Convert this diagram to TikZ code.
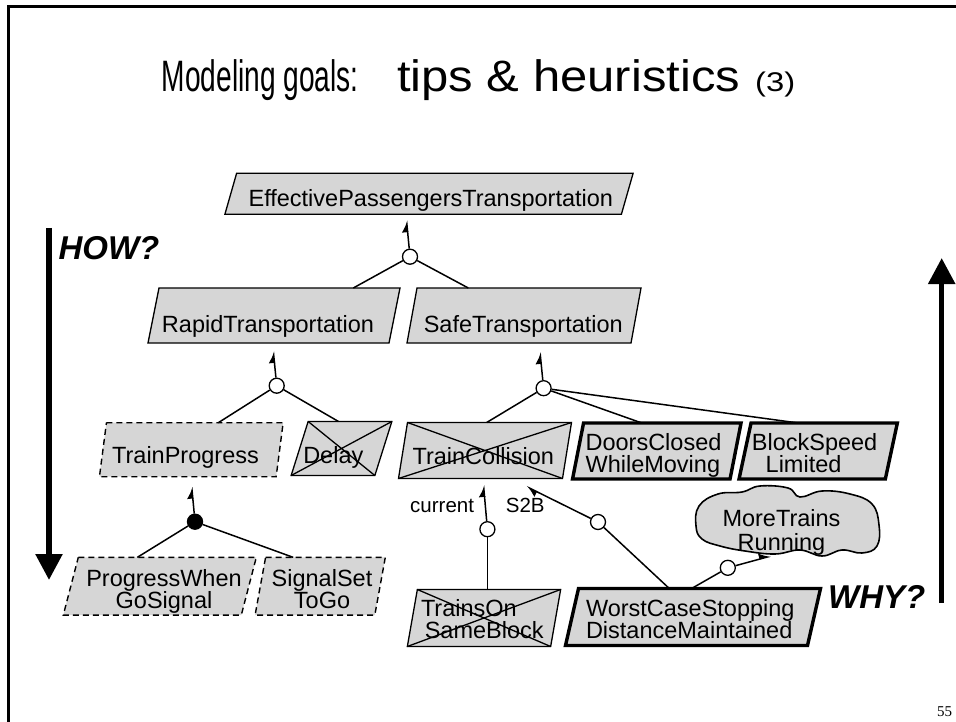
\documentclass[tikz,border=0pt]{standalone}
\usepackage{fontspec}
\setmainfont{Liberation Sans}
\newfontfamily\pagenumfont{Liberation Serif}
\usetikzlibrary{calc,arrows.meta}

\definecolor{goalfill}{RGB}{214,214,214}

\tikzset{
  box/.style 2 args={rectangle, minimum width=#1, minimum height=#2,
    inner sep=0pt, outer sep=0pt},
  goalshape/.style={fill=goalfill, draw=black, line width=1.3pt, line join=miter},
  expect/.style={dash pattern=on 6pt off 4pt, line width=1.4pt},
  reqt/.style={line width=3.4pt},
  goaltext/.style={font=\fontsize{23.5}{22}\selectfont, inner sep=0pt, outer sep=0pt},
  smalltext/.style={font=\fontsize{20.5}{22}\selectfont, inner sep=0pt},
  bigtext/.style={font=\fontsize{33}{36}\selectfont\bfseries\itshape, inner sep=0pt},
  titletext/.style={font=\fontsize{44}{50}\selectfont, inner sep=0pt, anchor=base west},
  conn/.style={line width=1.5pt},
  refarrow/.style={conn, -{Latex[harpoon, length=10pt, width=12pt]}},
  andnode/.style={circle, draw, fill=white, minimum size=15pt, inner sep=0pt,
    line width=1.3pt},
  ornode/.style={andnode, fill=black},
  dirarrow/.style={line width=5.5pt, -{Triangle[length=26pt, width=26pt]}},
}

% parallelogram goal outline around an empty box node; #3 = horizontal slant
\newcommand\goalbox[3][]{%
  \path[goalshape,#1] ([xshift=#3/2]#2.north west) -- ([xshift=#3/2]#2.north east)
    -- ([xshift=-#3/2]#2.south east) -- ([xshift=-#3/2]#2.south west) -- cycle;}
% diagonals striking out a goal
\newcommand\goalcross[2]{%
  \draw[line width=1.3pt] ([xshift=#2/2]#1.north west) -- ([xshift=-#2/2]#1.south east)
    ([xshift=-#2/2]#1.south west) -- ([xshift=#2/2]#1.north east);}

\begin{document}
\begin{tikzpicture}[x=1pt, y=-1pt]
\useasboundingbox (0,0) rectangle (956,722);

% slide frame
\draw[line width=2.5pt] (8.5,740) -- (8.5,6.5) -- (970,6.5);

% title
\node[titletext] (title1) at (161.6,91.5) {\resizebox{197pt}{\height}{Modeling goals:}};
\node[titletext] (title2) at (397,91.5) {\resizebox{343pt}{\height}{tips \& heuristics}};
\node[titletext, font=\fontsize{27}{30}\selectfont] (title3) at (755,92)
  {\resizebox{40pt}{\height}{(3)}};

% goal boxes
\node[box={396.5}{41}] (ept) at (429,193.8) {};
\node[box={241}{55}] (rapid) at (274,315.5) {};
\node[box={224}{55}] (safe) at (524,315.5) {};
\node[box={176.7}{54}] (tp) at (191.3,449.7) {};
\node[box={83.7}{54}] (delay) at (341.5,448.5) {};
\node[box={164}{56}] (tc) at (485,450.5) {};
\node[box={157.5}{56}] (dc) at (656.8,451) {};
\node[box={146.3}{56}] (bs) at (818.2,451) {};
\node[box={178}{57.7}] (pw) at (159.8,586.2) {};
\node[box={119.7}{57.7}] (ss) at (320.2,586.2) {};
\node[box={143.3}{57}] (tosb) at (484,618) {};
\node[box={242}{57}] (wc) at (693,617) {};
\node[box={186}{66}] (more) at (786,523) {};

\goalbox{ept}{11.7}
\goalbox{rapid}{11}
\goalbox{safe}{10}
\goalbox[expect]{tp}{7}
\goalbox{delay}{17}
\goalbox{tc}{9}
\goalbox[reqt]{dc}{11}
\goalbox[reqt]{bs}{12}
\goalbox[expect]{pw}{15}
\goalbox[expect]{ss}{10.5}
\goalbox{tosb}{10}
\goalbox[reqt]{wc}{13}

% domain property cloud
\draw[fill=goalfill, line width=1.6pt] plot[smooth cycle, tension=0.7] coordinates {
  (696,526) (699,506) (718,494) (742,492) (760,486) (788,488) (800,497)
  (822,491) (850,494) (872,504) (879,525) (877,546) (862,553) (842,550)
  (822,556) (800,550) (775,554) (745,551) (720,546) (702,539)};

% labels (multi-line labels are placed by the baseline of their last line)
\node[goaltext, anchor=base] (ept-t) at (430.8,206.7) {EffectivePassengersTransportation};
\node[goaltext, anchor=base] (rapid-t) at (268,332) {RapidTransportation};
\node[goaltext, anchor=base] (safe-t) at (523.3,332) {SafeTransportation};
\node[goaltext, anchor=base] (tp-t) at (185.5,463) {TrainProgress};
\node[goaltext, anchor=base] (delay-t) at (333.3,463) {Delay};
\node[goaltext, anchor=base] (tc-t) at (483.3,464.5) {TrainCollision};
\node[goaltext, anchor=base west, align=left] (dc-t) at (585.6,472.6) {DoorsClosed\\WhileMoving};
\node[goaltext, anchor=base west, align=left] (bs-t) at (751.9,472.6) {BlockSpeed\\\hspace*{13.8pt}Limited};
\node[goaltext, anchor=base, align=center] (pw-t) at (164,608.3) {ProgressWhen\\GoSignal};
\node[goaltext, anchor=base, align=center] (ss-t) at (322,608.3) {SignalSet\\ToGo};
\node[goaltext, anchor=base west, align=left] (tosb-t) at (421,638.4) {TrainsOn\\\hspace*{3.8pt}SameBlock};
\node[goaltext, anchor=base west, align=left] (wc-t) at (586,638.4) {WorstCaseStopping\\DistanceMaintained};
\node[goaltext, anchor=base, align=center] (more-t) at (781.5,550.6) {MoreTrains\\[2pt]Running};

% struck-out goals
\goalcross{delay}{17}
\goalcross{tc}{9}
\goalcross{tosb}{10}

% refinement nodes
\node[andnode] (a-ept) at (410,256.7) {};
\node[andnode] (a-rapid) at (276.7,385.7) {};
\node[andnode] (a-safe) at (543.6,388.2) {};
\node[ornode] (o-tp) at (195,521.7) {};
\node[andnode] (a-cur) at (487.4,529.2) {};
\node[andnode] (a-s2b) at (598,522) {};
\node[andnode] (a-more) at (727.8,567.8) {};

% refinement links
\draw[refarrow] (a-ept) -- ($(ept.south)+(-22.5,6)$);
\draw[conn] (a-ept) -- ($(rapid.north)+(79.3,0)$);
\draw[conn] (a-ept) -- ($(safe.north)+(-55.7,0)$);

\draw[refarrow] (a-rapid) -- ($(rapid.south)+(-0.7,8)$);
\draw[conn] (a-rapid) -- ($(tp.north)+(27,0)$);
\draw[conn] (a-rapid) -- ($(delay.north)+(-3,0)$);

\draw[refarrow] (a-safe) -- ($(safe.south)+(16,9)$);
\draw[conn] (a-safe) -- ($(tc.north)+(1.7,0)$);
\draw[conn] (a-safe) -- ($(dc.north)+(-15,0)$);
\draw[conn] (a-safe) -- ($(bs.north)+(-20,0)$);

\draw[refarrow] (o-tp) -- ($(tp.south)+(0.4,10)$);
\draw[conn] (o-tp) -- ($(pw.north)+(-22.5,0)$);
\draw[conn] (o-tp) -- ($(ss.north)+(-27,0)$);

\draw[refarrow] (a-cur) -- ($(tc.south)+(-1.5,6.5)$);
\draw[conn] (a-cur) -- ($(tosb.north)+(3.4,0)$);

\draw[refarrow] (a-s2b) -- ($(tc.south)+(41.3,8)$);
\draw[conn] (a-s2b) -- ($(wc.north)+(-23.7,0)$);

\draw[conn] (a-more) -- ($(wc.north)+(-1.4,0)$);
\draw[refarrow] (a-more) -- ($(more.south)+(-15,0)$);

\node[smalltext, anchor=base west] (cur-t) at (410,512) {current};
\node[smalltext, anchor=base west] (s2b-t) at (505.7,512) {S2B};

% HOW? / WHY? direction arrows
\coordinate (howtop) at (49,228);
\coordinate (howend) at (49,580);
\draw[dirarrow] (howtop) -- (howend);
\node[bigtext, anchor=base west] (how) at (58.3,260) {HOW?};

\coordinate (whybot) at (941.7,603);
\coordinate (whyend) at (941.7,258);
\draw[dirarrow] (whybot) -- (whyend);
\node[bigtext, anchor=base west] (why) at (828,608) {WHY?};

% page number
\node[font=\pagenumfont\fontsize{15}{17}\selectfont, inner sep=0pt, anchor=base west]
  (pagenum) at (937,716) {55};
\end{tikzpicture}
\end{document}
